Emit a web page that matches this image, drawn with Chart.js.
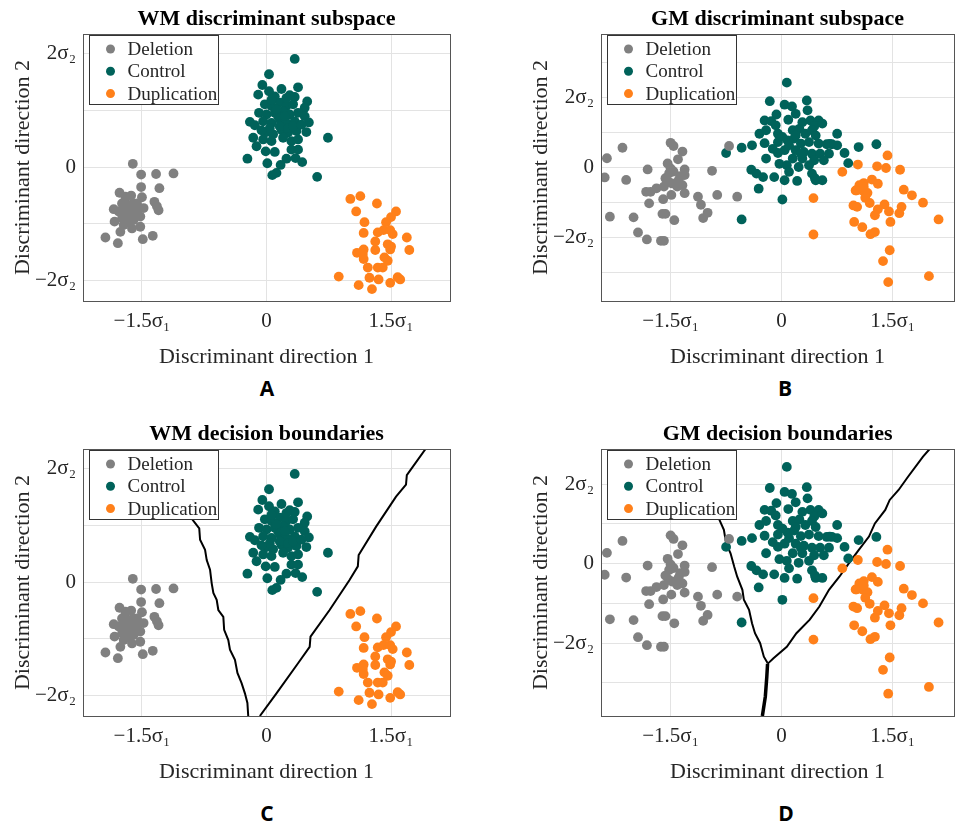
<!DOCTYPE html>
<html>
<head>
<meta charset="utf-8">
<script src="https://cdn.jsdelivr.net/npm/chart.js@4.4.0/dist/chart.umd.min.js"></script>
<style>
  html, body { margin: 0; padding: 0; background: #fff; overflow: hidden; }
  body { width: 957px; height: 822px; position: relative; }
  canvas { position: absolute; }
  .tag { position: absolute; font: bold 21px "Open Sans", sans-serif; line-height: 24px; transform: translateX(-50%); }
</style>
</head>
<body>
<canvas id="wmSub" width="456" height="370" style="left:0;top:0"></canvas>
<canvas id="gmSub" width="441" height="370" style="left:518px;top:0"></canvas>
<canvas id="wmDec" width="456" height="370" style="left:0;top:415px"></canvas>
<canvas id="gmDec" width="441" height="370" style="left:518px;top:415px"></canvas>
<div class="tag" style="left:267px;top:376px">A</div>
<div class="tag" style="left:785px;top:376px">B</div>
<div class="tag" style="left:267px;top:801px">C</div>
<div class="tag" style="left:786px;top:801px">D</div>
<script>
const seriesNames = ['Deletion', 'Control', 'Duplication'];
const seriesColors = ['#808080', '#00625a', '#ff801a'];

const xTickValues = [-1.5, 0, 1.5];
const xTickLabels = ['−1.5σ₁', '0', '1.5σ₁'];
const yTickLabels = { '-2': '−2σ₂', '0': '0', '2': '2σ₂' };
const yGridWM = [-2, -1, 0, 1, 2];
const yGridGMsub = [-3, -2, -1, 0, 1, 2, 3];
const yGridGMdec = [-3, -2, -1, 0, 1, 2];

// WM data (panels A and C)
const wmDeletion = [
  [-1.61,0.06],[-1.51,-0.13],[-1.33,-0.12],[-1.12,-0.11],[-1.51,-0.35],[-1.29,-0.37],
  [-1.77,-0.45],[-1.70,-0.52],[-1.63,-0.50],[-1.50,-0.53],[-1.35,-0.61],[-1.32,-0.69],
  [-1.30,-0.76],[-1.74,-0.64],[-1.68,-0.66],[-1.61,-0.64],[-1.84,-0.74],[-1.78,-0.78],
  [-1.72,-0.75],[-1.64,-0.78],[-1.56,-0.75],[-1.48,-0.72],[-1.83,-0.96],[-1.74,-0.90],
  [-1.68,-0.87],[-1.60,-0.93],[-1.52,-0.87],[-1.72,-1.02],[-1.62,-1.08],[-1.52,-1.05],
  [-1.76,-1.14],[-1.94,-1.24],[-1.79,-1.34],[-1.49,-1.27],[-1.37,-1.21],[-1.56,-0.64],
  [-1.66,-0.96],[-1.58,-0.84]
];
const wmControl = [
  [0.34,1.91],[0.03,1.64],[-0.05,1.45],[-0.10,1.28],[0.03,1.34],[0.18,1.38],[0.38,1.41],
  [0.10,1.25],[0.28,1.27],[0.34,1.24],[0.49,1.16],[-0.02,1.11],[0.06,1.08],[0.16,1.14],
  [0.24,1.08],[0.32,1.11],[0.46,1.05],[-0.09,0.96],[0.00,0.93],[0.10,0.96],[0.20,0.99],
  [0.28,0.93],[0.38,0.96],[0.46,0.90],[-0.20,0.80],[-0.14,0.74],[-0.04,0.81],[0.06,0.78],
  [0.16,0.84],[0.24,0.78],[0.34,0.81],[0.51,0.79],[0.48,0.62],[0.00,0.62],[0.08,0.58],
  [0.18,0.66],[0.26,0.61],[0.36,0.64],[-0.16,0.52],[-0.04,0.49],[0.06,0.46],[0.20,0.52],
  [0.30,0.46],[0.38,0.49],[0.74,0.52],[-0.12,0.37],[-0.01,0.28],[0.10,0.27],[0.30,0.31],
  [0.38,0.31],[0.24,0.15],[0.35,0.16],[0.43,0.09],[-0.23,0.15],[0.01,0.07],[0.17,0.04],
  [0.12,-0.10],[0.07,-0.14],[0.61,-0.17],[0.14,0.90],[0.22,0.90],[0.16,0.72],[0.26,0.69],
  [0.12,1.02],[0.04,0.69],[0.32,0.72],[-0.06,0.65],[0.42,0.75],[0.24,1.22],[0.06,1.19]
];
const wmDuplication = [
  [1.01,-0.56],[1.13,-0.51],[1.33,-0.64],[1.08,-0.78],[1.56,-0.78],[1.50,-0.88],[1.44,-0.97],
  [1.18,-0.97],[1.17,-1.16],[1.34,-1.15],[1.41,-1.11],[1.49,-1.11],[1.52,-1.18],[1.69,-1.24],
  [1.31,-1.31],[1.46,-1.36],[1.49,-1.45],[1.72,-1.46],[1.17,-1.45],[1.09,-1.51],[1.31,-1.46],
  [1.42,-1.59],[1.46,-1.65],[1.17,-1.62],[1.22,-1.77],[1.34,-1.77],[1.40,-1.77],[0.87,-1.93],
  [1.24,-1.95],[1.35,-1.98],[1.58,-1.94],[1.61,-1.98],[1.49,-2.04],[1.11,-2.08],[1.27,-2.15],
  [1.16,-1.53],[1.50,-1.40]
];

// GM data (panels B and D)
const gmDeletion = [
  [-1.50,0.71],[-1.46,0.62],[-1.34,0.46],[-2.15,0.57],[-2.36,0.27],[-1.40,0.24],[-2.39,-0.28],
  [-2.10,-0.35],[-1.81,-0.05],[-1.54,0.12],[-1.50,-0.02],[-1.52,-0.16],[-1.46,-0.11],
  [-1.31,-0.05],[-1.31,-0.21],[-1.57,-0.30],[-1.48,-0.45],[-1.39,-0.35],[-1.34,-0.50],
  [-1.31,-0.73],[-1.41,-0.54],[-1.59,-0.54],[-1.69,-0.59],[-1.77,-0.69],[-1.83,-0.69],
  [-1.49,-0.78],[-1.60,-0.90],[-1.79,-1.02],[-1.13,-0.83],[-1.09,-1.06],[-0.94,-0.09],
  [-0.87,-0.78],[-1.00,-1.29],[-1.06,-1.44],[-1.61,-1.32],[-1.57,-1.32],[-1.45,-1.50],
  [-2.32,-1.40],[-2.00,-1.42],[-1.94,-1.85],[-1.82,-2.05],[-1.63,-2.09],[-1.59,-2.09],
  [-1.53,-0.40],[-1.37,-0.24],[-0.71,0.62],[-0.60,-0.83]
];
const gmControl = [
  [0.07,2.43],[-0.16,1.90],[0.04,1.80],[0.14,1.75],[0.34,1.92],[0.35,1.64],[-0.07,1.52],
  [-0.23,1.35],[-0.14,1.33],[0.09,1.37],[0.28,1.30],[0.39,1.35],[0.50,1.35],[0.44,1.18],
  [-0.08,1.21],[-0.30,0.97],[-0.21,1.07],[-0.05,0.97],[0.15,1.07],[0.24,1.11],[0.32,0.97],
  [0.41,1.07],[0.75,0.97],[-0.23,0.70],[-0.05,0.73],[0.08,0.78],[0.17,0.83],[0.26,0.69],
  [0.50,0.69],[0.61,0.67],[0.68,0.67],[0.75,0.64],[-0.40,0.64],[-0.54,0.57],[-0.75,0.42],
  [-0.21,0.26],[-0.05,0.42],[0.04,0.50],[0.19,0.50],[0.30,0.45],[0.41,0.40],[0.52,0.40],
  [0.64,0.40],[0.85,0.42],[0.15,0.26],[0.28,0.26],[0.44,0.21],[0.57,0.21],[0.90,0.13],
  [-0.03,0.11],[0.07,0.07],[0.23,0.02],[0.37,0.07],[-0.41,-0.06],[-0.34,-0.17],[-0.25,-0.27],
  [-0.10,-0.27],[0.04,-0.36],[0.21,-0.38],[0.41,-0.17],[0.46,-0.36],[0.55,-0.36],[0.10,-0.12],
  [-0.31,-0.60],[0.01,-0.91],[-0.54,-1.48],[1.04,0.59],[0.01,0.88],[0.19,0.92],[0.10,0.64],
  [0.26,0.40],[-0.12,0.54],[0.46,0.92],[0.55,1.26],[0.19,1.54],[0.37,0.73],[1.28,0.67],
  [0.65,0.68],[0.45,-0.30]
];
const gmDuplication = [
  [1.43,0.35],[1.03,0.09],[1.29,0.04],[1.41,-0.01],[1.60,-0.06],[0.82,-0.12],[1.22,-0.34],
  [1.30,-0.46],[1.11,-0.44],[1.05,-0.50],[1.01,-0.65],[1.09,-0.65],[1.16,-0.72],[1.13,-0.86],
  [1.19,-1.01],[1.39,-1.05],[1.30,-1.19],[1.45,-1.25],[1.26,-1.36],[0.97,-1.08],[1.02,-1.12],
  [1.65,-0.63],[1.76,-0.79],[1.91,-1.00],[1.62,-1.12],[1.59,-1.30],[1.47,-1.55],[0.98,-1.55],
  [1.09,-1.70],[1.20,-1.90],[1.26,-1.84],[0.43,-0.87],[0.43,-1.91],[2.12,-1.48],[1.46,-2.36],
  [1.37,-2.67],[1.99,-3.10],[1.44,-3.27],[1.11,-0.55],[1.00,-0.65]
];

// decision boundaries
const wmBoundaryLeft = [
  [-1.13,2.35],[-0.89,1.10],[-0.81,0.95],[-0.80,0.75],[-0.74,0.57],[-0.72,0.39],[-0.68,0.22],
  [-0.66,-0.02],[-0.64,-0.19],[-0.60,-0.31],[-0.58,-0.49],[-0.52,-0.61],[-0.51,-0.84],
  [-0.46,-1.02],[-0.44,-1.19],[-0.38,-1.37],[-0.35,-1.60],[-0.30,-1.78],[-0.26,-1.96],
  [-0.23,-2.13],[-0.22,-2.36]
];
const wmBoundaryRight = [
  [-0.08,-2.36],[0.12,-1.96],[0.38,-1.43],[0.52,-1.14],[0.53,-0.96],[0.76,-0.49],[1.00,0.04],
  [1.10,0.28],[1.11,0.48],[1.32,0.98],[1.56,1.51],[1.68,1.72],[1.69,1.89],[1.92,2.36]
];
const gmBoundaryLeft = [
  [-1.17,2.88],[-0.84,1.10],[-0.78,0.85],[-0.75,0.51],[-0.69,0.26],[-0.64,-0.08],[-0.60,-0.33],
  [-0.53,-0.66],[-0.51,-0.91],[-0.44,-1.16],[-0.40,-1.50],[-0.36,-1.75],[-0.29,-2.00],
  [-0.24,-2.34],[-0.19,-2.50]
];
const gmBoundaryRight = [
  [-0.19,-2.52],[-0.11,-2.38],[0.07,-2.09],[0.20,-1.75],[0.38,-1.41],[0.51,-1.08],[0.64,-0.66],
  [0.78,-0.33],[0.91,0.01],[1.04,0.34],[1.18,0.68],[1.26,1.01],[1.40,1.35],[1.46,1.60],
  [1.58,1.85],[1.71,2.19],[1.91,2.69],[2.00,2.88]
];
const gmBoundaryStem = [
  [-0.19,-2.52],[-0.20,-2.84],[-0.22,-3.34],[-0.26,-3.83]
];

const toXY = arr => arr.map(p => ({ x: p[0], y: p[1] }));

const frameAndLegend = {
  id: 'frameAndLegend',
  afterDraw(chart) {
    const { ctx, chartArea: a } = chart;
    ctx.save();
    ctx.strokeStyle = '#555';
    ctx.lineWidth = 1;
    ctx.strokeRect(Math.round(a.left) + 0.5, Math.round(a.top) + 0.5,
      Math.round(a.right - a.left), Math.round(a.bottom - a.top));
    // legend box inside the axes
    const bx = Math.round(a.left + 6) + 0.5, by = Math.round(a.top + 1) + 0.5;
    ctx.fillStyle = '#fff';
    ctx.fillRect(bx, by, 129, 69);
    ctx.strokeStyle = '#333';
    ctx.strokeRect(bx, by, 129, 69);
    ctx.font = '19px "Liberation Serif", "Times New Roman", serif';
    ctx.textBaseline = 'middle';
    chart.data.datasets.filter(d => !d.boundary).forEach((d, i) => {
      const ry = by + 13.5 + i * 22.3;
      ctx.fillStyle = d.backgroundColor;
      ctx.beginPath();
      ctx.arc(bx + 21, ry, 4.5, 0, Math.PI * 2);
      ctx.fill();
      ctx.fillStyle = '#262626';
      ctx.fillText(d.label, bx + 38, ry + 1);
    });
    ctx.restore();
  }
};

function makePanel(id, title, groups, xr, yr, yGrid, boundaries) {
  const datasets = groups.map((g, i) => ({
    label: seriesNames[i],
    data: toXY(g),
    backgroundColor: seriesColors[i],
    pointRadius: 4.9,
    pointHoverRadius: 4.9,
    pointBorderWidth: 0
  }));
  boundaries.forEach(b => datasets.push({
    label: 'boundary',
    boundary: true,
    data: toXY(b[0]),
    showLine: true,
    borderColor: '#000',
    borderWidth: b[1],
    pointRadius: 0,
    tension: 0
  }));
  const serif = '"Liberation Serif", "Times New Roman", serif';
  new Chart(document.getElementById(id), {
    type: 'scatter',
    data: { datasets },
    options: {
      responsive: false,
      animation: false,
      events: [],
      layout: { padding: { left: 0, right: id.startsWith('wm') ? 6 : 0, top: 0, bottom: 0 } },
      plugins: {
        legend: { display: false },
        tooltip: { enabled: false },
        title: {
          display: true,
          text: title,
          fullSize: false,
          color: '#000',
          font: { family: serif, size: 22, weight: 'bold' },
          padding: { top: 6, bottom: 1.6 }
        }
      },
      scales: {
        x: {
          type: 'linear',
          min: xr[0], max: xr[1],
          afterFit: s => { s.height = 69; },
          afterBuildTicks: s => { s.ticks = xTickValues.map(v => ({ value: v })); },
          grid: { color: '#e3e3e3', drawTicks: false },
          border: { display: false },
          ticks: {
            autoSkip: false, maxRotation: 0, padding: 8, color: '#262626',
            font: { family: serif, size: 21 },
            callback: v => xTickLabels[xTickValues.indexOf(v)]
          },
          title: {
            display: true, text: 'Discriminant direction 1', color: '#262626',
            font: { family: serif, size: 22 }, padding: { top: 0, bottom: 0 }
          }
        },
        y: {
          type: 'linear',
          min: yr[0], max: yr[1],
          afterFit: s => { s.width = 83; },
          afterBuildTicks: s => { s.ticks = yGrid.map(v => ({ value: v })); },
          grid: { color: '#e3e3e3', drawTicks: false },
          border: { display: false },
          ticks: {
            autoSkip: false, padding: 7, color: '#262626',
            font: { family: serif, size: 21 },
            callback: v => yTickLabels[String(v)] || ''
          },
          title: {
            display: true, text: 'Discriminant direction 2', color: '#262626',
            font: { family: serif, size: 22 }, padding: { top: 10, bottom: 0 }
          }
        }
      }
    },
    plugins: [frameAndLegend]
  });
}

makePanel('wmSub', 'WM discriminant subspace', [wmDeletion, wmControl, wmDuplication],
  [-2.21, 2.21], [-2.36, 2.35], yGridWM, []);
makePanel('gmSub', 'GM discriminant subspace', [gmDeletion, gmControl, gmDuplication],
  [-2.44, 2.33], [-3.81, 3.82], yGridGMsub, []);
makePanel('wmDec', 'WM decision boundaries', [wmDeletion, wmControl, wmDuplication],
  [-2.21, 2.21], [-2.36, 2.35], yGridWM, [[wmBoundaryLeft, 2], [wmBoundaryRight, 2]]);
makePanel('gmDec', 'GM decision boundaries', [gmDeletion, gmControl, gmDuplication],
  [-2.44, 2.33], [-3.83, 2.88], yGridGMdec,
  [[gmBoundaryLeft, 2], [gmBoundaryRight, 2], [gmBoundaryStem, 3.5]]);
</script>
</body>
</html>
